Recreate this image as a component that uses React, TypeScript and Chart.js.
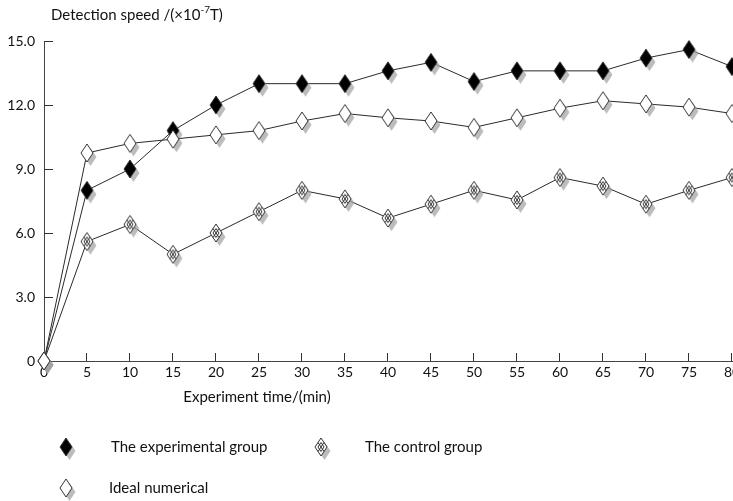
import React, { useEffect, useRef } from "react";
import { Chart, registerables } from "chart.js";

Chart.register(...registerables);

const times = [0, 5, 10, 15, 20, 25, 30, 35, 40, 45, 50, 55, 60, 65, 70, 75, 80];
const experimental = [0, 8.0, 9.0, 10.8, 12.0, 13.0, 13.0, 13.0, 13.6, 14.0, 13.1, 13.6, 13.6, 13.6, 14.2, 14.6, 13.8];
const control = [0, 5.6, 6.4, 5.0, 6.0, 7.0, 8.0, 7.6, 6.7, 7.35, 8.0, 7.55, 8.6, 8.2, 7.35, 8.0, 8.6];
const ideal = [0, 9.75, 10.2, 10.4, 10.6, 10.8, 11.25, 11.6, 11.4, 11.25, 10.95, 11.4, 11.85, 12.2, 12.05, 11.9, 11.6];
const yTickValues = [0, 3, 6, 9, 12, 15];
const seriesNames = ["The experimental group", "The control group", "Ideal numerical"];
const yTitleMain = "Detection speed /(×10";
const yTitleSup = "-7";
const yTitleEnd = "T)";
const xTitle = "Experiment time/(min)";

const FONT = "Lato, 'Liberation Sans', sans-serif";

type Kind = "filled" | "hatched" | "open";

function makeMarker(kind: Kind): HTMLCanvasElement {
  const c = document.createElement("canvas");
  const W = 28, H = 32;
  c.width = W;
  c.height = H;
  const ctx = c.getContext("2d")!;
  const cx = W / 2, cy = H / 2;
  const hw = 6, hh = 9;
  const diamond = (x: number, y: number) => {
    ctx.beginPath();
    ctx.moveTo(x, y - hh);
    ctx.lineTo(x + hw, y);
    ctx.lineTo(x, y + hh);
    ctx.lineTo(x - hw, y);
    ctx.closePath();
  };
  diamond(cx + 3.5, cy + 4);
  ctx.fillStyle = "rgba(160,160,160,0.7)";
  ctx.fill();
  diamond(cx, cy);
  ctx.fillStyle = kind === "filled" ? "#000" : "#fff";
  ctx.fill();
  ctx.lineWidth = 1;
  ctx.strokeStyle = "#333";
  ctx.stroke();
  if (kind === "hatched") {
    ctx.beginPath();
    ctx.moveTo(cx - hw / 2, cy - hh / 2);
    ctx.lineTo(cx + hw / 2, cy + hh / 2);
    ctx.moveTo(cx + hw / 2, cy - hh / 2);
    ctx.lineTo(cx - hw / 2, cy + hh / 2);
    ctx.stroke();
    ctx.beginPath();
    ctx.moveTo(cx, cy - hh / 2);
    ctx.lineTo(cx + hw / 2, cy);
    ctx.lineTo(cx, cy + hh / 2);
    ctx.lineTo(cx - hw / 2, cy);
    ctx.closePath();
    ctx.stroke();
  }
  return c;
}

export default function App() {
  const ref = useRef<HTMLCanvasElement | null>(null);

  useEffect(() => {
    document.body.style.margin = "0";
    const markers = {
      filled: makeMarker("filled"),
      hatched: makeMarker("hatched"),
      open: makeMarker("open"),
    };
    const toPts = (arr: number[]) => times.map((t, i) => ({ x: t, y: arr[i] }));

    const decorPlugin = {
      id: "decor",
      afterDraw(chart: any) {
        const ctx = chart.ctx as CanvasRenderingContext2D;
        const xs = chart.scales.x;
        const ys = chart.scales.y;
        const ca = chart.chartArea;
        ctx.save();
        ctx.strokeStyle = "#333";
        ctx.lineWidth = 1;
        ctx.beginPath();
        for (const v of yTickValues) {
          if (v === 0) continue;
          const py = Math.round(ys.getPixelForValue(v)) + 0.5;
          ctx.moveTo(ca.left, py);
          ctx.lineTo(ca.left + 9, py);
        }
        for (const t of times) {
          if (t === 0) continue;
          const px = Math.round(xs.getPixelForValue(t)) - 0.5;
          ctx.moveTo(px, ca.bottom);
          ctx.lineTo(px, ca.bottom - 8);
        }
        ctx.stroke();

        ctx.fillStyle = "#111";
        ctx.textBaseline = "middle";
        ctx.textAlign = "left";
        ctx.font = `15px ${FONT}`;
        let x = 51;
        const y = 15;
        ctx.fillText(yTitleMain, x, y);
        x += ctx.measureText(yTitleMain).width;
        ctx.font = `10px ${FONT}`;
        ctx.fillText(yTitleSup, x, y - 5);
        x += ctx.measureText(yTitleSup).width;
        ctx.font = `15px ${FONT}`;
        ctx.fillText(yTitleEnd, x, y);

        ctx.textAlign = "center";
        ctx.fillText(xTitle, 257, 397);

        ctx.textAlign = "left";
        const items = [
          { m: markers.filled, mx: 66, my: 447, tx: 111, label: seriesNames[0] },
          { m: markers.hatched, mx: 321, my: 447, tx: 365, label: seriesNames[1] },
          { m: markers.open, mx: 66, my: 488, tx: 109, label: seriesNames[2] },
        ];
        for (const it of items) {
          ctx.drawImage(it.m, it.mx - it.m.width / 2, it.my - it.m.height / 2);
          ctx.fillText(it.label, it.tx, it.my);
        }
        ctx.restore();
      },
    };

    const common = {
      borderColor: "#2a2a2a",
      borderWidth: 1,
      tension: 0,
      clip: false as any,
    };

    const chart = new Chart(ref.current!, {
      type: "line",
      data: {
        datasets: [
          { ...common, label: seriesNames[0], data: toPts(experimental), pointStyle: markers.filled as any, order: 2 },
          { ...common, label: seriesNames[1], data: toPts(control), pointStyle: markers.hatched as any, order: 1 },
          { ...common, label: seriesNames[2], data: toPts(ideal), pointStyle: markers.open as any, order: 0 },
        ],
      },
      options: {
        animation: false,
        responsive: true,
        maintainAspectRatio: false,
        layout: { padding: { top: 41, right: 1, left: 0, bottom: 0 }, autoPadding: false },
        plugins: { legend: { display: false }, tooltip: { enabled: false } },
        scales: {
          x: {
            type: "linear",
            min: 0,
            max: 80,
            afterFit: (s: any) => {
              s.height = 140;
              s.paddingLeft = 0;
              s.paddingRight = 0;
            },
            afterBuildTicks: (s: any) => {
              s.ticks = times.map((v) => ({ value: v }));
            },
            ticks: {
              color: "#111",
              font: { family: FONT, size: 14 },
              padding: 3,
              maxRotation: 0,
              autoSkip: false,
            },
            grid: { display: true, drawOnChartArea: false, drawTicks: false, tickLength: 0 },
            border: { display: true, color: "#444", width: 1 },
          },
          y: {
            type: "linear",
            min: 0,
            max: 15,
            afterFit: (s: any) => {
              s.width = 44;
              s.paddingTop = 0;
              s.paddingBottom = 0;
            },
            afterBuildTicks: (s: any) => {
              s.ticks = yTickValues.map((v) => ({ value: v }));
            },
            ticks: {
              color: "#111",
              font: { family: FONT, size: 14 },
              padding: 9,
              callback: (v: any) => (Number(v) === 0 ? "0" : Number(v).toFixed(1)),
            },
            grid: { display: true, drawOnChartArea: false, drawTicks: false, tickLength: 0 },
            border: { display: true, color: "#444", width: 1 },
          },
        },
      },
      plugins: [decorPlugin],
    });
    return () => chart.destroy();
  }, []);

  return (
    <div style={{ position: "absolute", left: 0, top: 0, width: 733, height: 501 }}>
      <canvas ref={ref} />
    </div>
  );
}
